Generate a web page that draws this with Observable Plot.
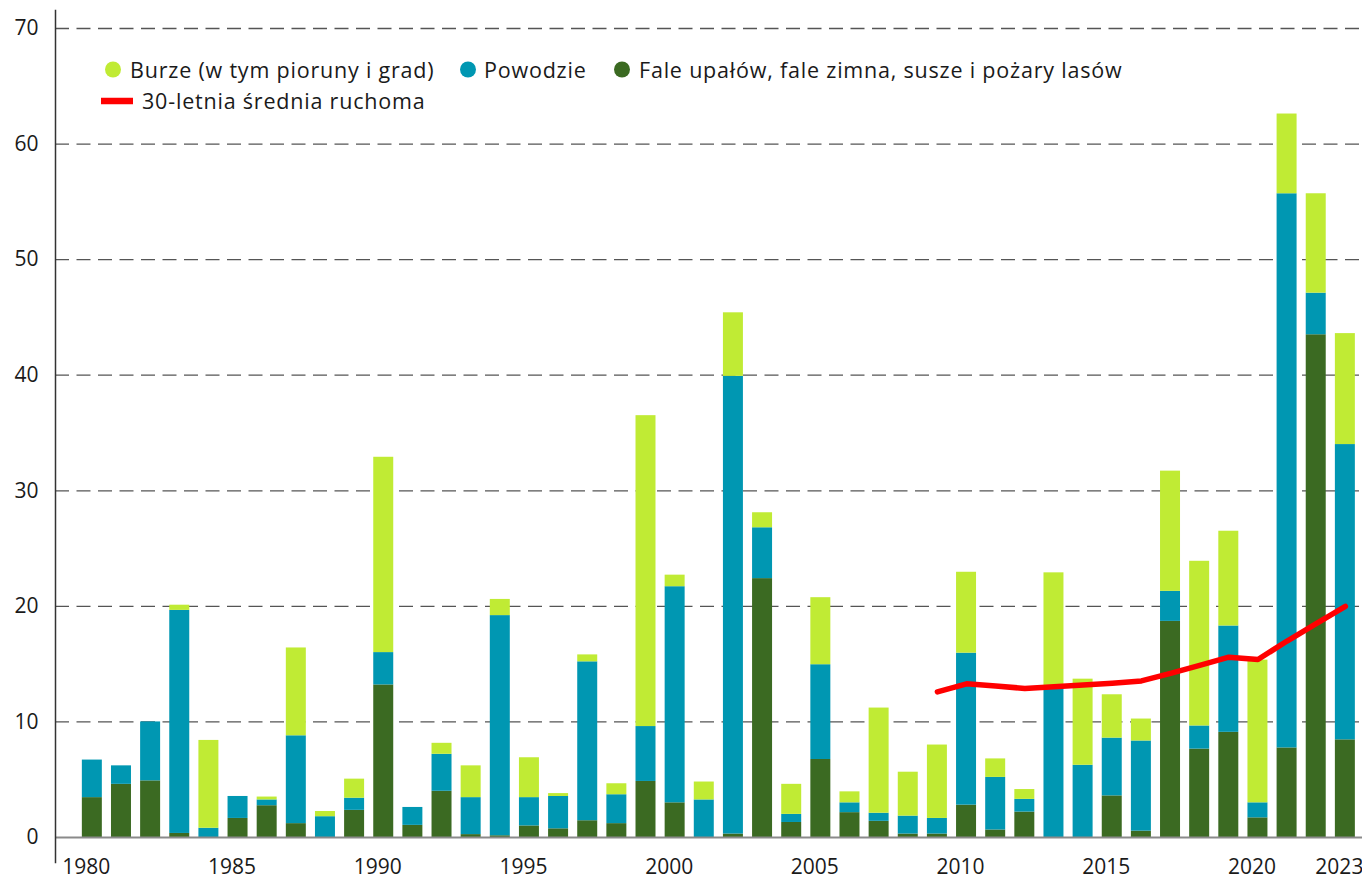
<!DOCTYPE html>
<html><head><meta charset="utf-8">
<script src="https://cdn.jsdelivr.net/npm/d3@7"></script>
<script src="https://cdn.jsdelivr.net/npm/@observablehq/plot@0.6"></script>
<style>
html,body{margin:0;padding:0;background:#fff;overflow:hidden;}
#wrap{position:relative;width:1362px;height:876px;}
#legend{position:absolute;left:0;top:0;pointer-events:none;}
#legend text{font-family:"Open Sans",sans-serif;font-size:21.5px;letter-spacing:0.8px;fill:#1a1a1a;}
</style></head><body><div id="wrap"></div>
<script>
const years = [1980,1981,1982,1983,1984,1985,1986,1987,1988,1989,1990,1991,1992,1993,1994,1995,1996,1997,1998,1999,2000,2001,2002,2003,2004,2005,2006,2007,2008,2009,2010,2011,2012,2013,2014,2015,2016,2017,2018,2019,2020,2021,2022,2023];
// Fale upałów, fale zimna, susze i pożary lasów
const heat = [3.45,4.6,4.9,0.35,0,1.65,2.75,1.2,0,2.35,13.2,1.05,4.0,0.25,0.15,1.0,0.75,1.45,1.2,4.85,3.0,0,0.3,22.4,1.3,6.75,2.15,1.4,0.3,0.3,2.8,0.65,2.2,0,0,3.6,0.55,18.7,7.65,9.1,1.7,7.75,43.5,8.45];
// Powodzie
const floods = [3.25,1.6,5.1,19.3,0.8,1.9,0.5,7.6,1.8,1.05,2.8,1.55,3.2,3.2,19.05,2.45,2.8,13.75,2.5,4.75,18.7,3.25,39.6,4.4,0.7,8.2,0.85,0.7,1.55,1.35,13.15,4.55,1.1,13.0,6.25,5.0,7.8,2.6,2.0,9.2,1.3,47.95,3.6,25.55];
// Burze (w tym pioruny i grad)
const storms = [0,0,0,0.45,7.6,0,0.25,7.6,0.45,1.65,16.9,0,0.95,2.75,1.4,3.45,0.25,0.6,0.95,26.9,1.0,1.55,5.5,1.3,2.6,5.8,0.95,9.1,3.8,6.35,7.0,1.6,0.85,9.9,7.45,3.75,1.9,10.4,14.25,8.2,12.35,6.9,8.6,9.6];
// 30-letnia średnia ruchoma
const maYears = [2009,2010,2011,2012,2013,2014,2015,2016,2017,2018,2019,2020,2021,2022,2023];
const maValues = [12.6,13.3,13.1,12.9,13.05,13.2,13.35,13.55,14.2,14.9,15.6,15.4,17.0,18.5,20.0];

const seriesNames = ["Burze (w tym pioruny i grad)", "Powodzie", "Fale upałów, fale zimna, susze i pożary lasów"];
const seriesColors = ["#c0eb34", "#0097b2", "#3b6a22"];
const lineName = "30-letnia średnia ruchoma";
const lineColor = "#ff0000";
const stackOrder = [seriesNames[2], seriesNames[1], seriesNames[0]];
const yTicks = [0,10,20,30,40,50,60,70];
const xTicks = [1980,1985,1990,1995,2000,2005,2010,2015,2020,2023];

const rows = [];
years.forEach((yr, i) => {
  rows.push({year: yr, series: seriesNames[2], value: heat[i]});
  rows.push({year: yr, series: seriesNames[1], value: floods[i]});
  rows.push({year: yr, series: seriesNames[0], value: storms[i]});
});
const maRows = maYears.map((yr, i) => ({year: yr, value: maValues[i]}));

const chart = Plot.plot({
  width: 1362, height: 876,
  marginLeft: 55, marginRight: 0, marginTop: 28, marginBottom: 39,
  style: {fontFamily: "Open Sans, sans-serif", fontSize: "21px", color: "#1a1a1a", background: "transparent", overflow: "visible"},
  x: {type: "band", domain: years, paddingInner: 0.314, paddingOuter: 0.583, align: 0.79, round: false, label: null},
  y: {domain: [0, 70], label: null},
  color: {domain: seriesNames, range: seriesColors},
  marks: [
    Plot.gridY(yTicks.filter(d => d > 0), {stroke: "#555", strokeOpacity: 1, strokeDasharray: "14,7.5", strokeWidth: 1.3}),
    Plot.barY(rows, {x: "year", y: "value", fill: "series", order: stackOrder}),
    Plot.ruleY([0], {stroke: "#8a8a8a", strokeWidth: 2}),
    Plot.lineY(maRows, {x: "year", y: "value", stroke: lineColor, strokeWidth: 5.5}),
    Plot.axisY(yTicks, {tickSize: 0, tickPadding: 17, label: null, tickFormat: d => String(d)}),
    Plot.axisX(xTicks, {tickSize: 0, tickPadding: 22, dx: -6, label: null, tickFormat: d => String(d)}),
    Plot.frame({anchor: "left", stroke: "#333", strokeWidth: 1.5, insetTop: -18, insetBottom: -25})
  ]
});
const wrap = document.getElementById("wrap");
wrap.appendChild(chart);

// legend overlay
const ns = "http://www.w3.org/2000/svg";
const leg = document.createElementNS(ns, "svg");
leg.setAttribute("id", "legend");
leg.setAttribute("width", 1362);
leg.setAttribute("height", 130);
const dotX = [113, 468, 622];
const textX = [130, 484, 639];
seriesNames.forEach((name, i) => {
  const c = document.createElementNS(ns, "circle");
  c.setAttribute("cx", dotX[i]); c.setAttribute("cy", 69.5); c.setAttribute("r", 8);
  c.setAttribute("fill", seriesColors[i]);
  leg.appendChild(c);
  const t = document.createElementNS(ns, "text");
  t.setAttribute("x", textX[i]); t.setAttribute("y", 77.5);
  t.textContent = name;
  leg.appendChild(t);
});
const l = document.createElementNS(ns, "line");
l.setAttribute("x1", 101); l.setAttribute("x2", 133); l.setAttribute("y1", 101); l.setAttribute("y2", 101);
l.setAttribute("stroke", lineColor); l.setAttribute("stroke-width", 6.5);
leg.appendChild(l);
const lt = document.createElementNS(ns, "text");
lt.setAttribute("x", 142); lt.setAttribute("y", 109);
lt.textContent = lineName;
leg.appendChild(lt);
wrap.appendChild(leg);
</script></body></html>
